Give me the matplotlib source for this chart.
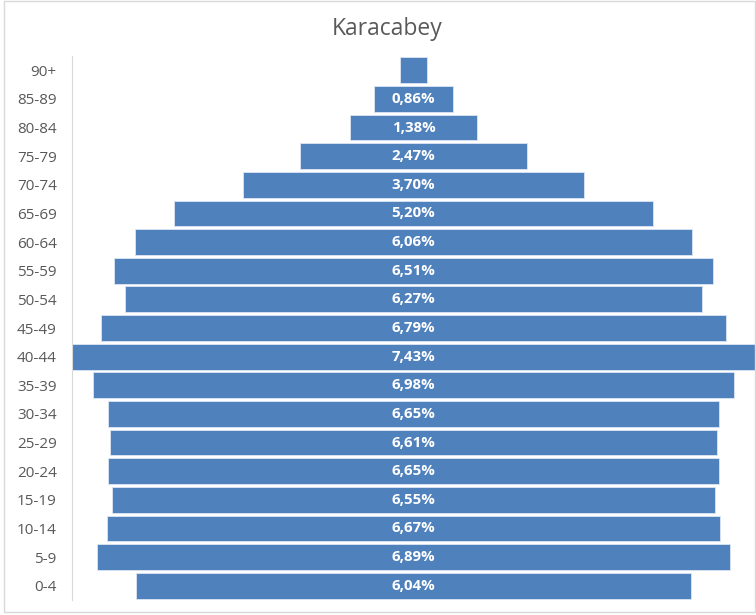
import matplotlib
matplotlib.use("Agg")
import matplotlib.pyplot as plt
from matplotlib.patches import Rectangle

# age groups, top to bottom as in the chart
ages = ["90+", "85-89", "80-84", "75-79", "70-74", "65-69", "60-64", "55-59",
        "50-54", "45-49", "40-44", "35-39", "30-34", "25-29", "20-24",
        "15-19", "10-14", "5-9", "0-4"]
share = [0.29, 0.86, 1.38, 2.47, 3.70, 5.20, 6.06, 6.51, 6.27, 6.79, 7.43,
         6.98, 6.65, 6.61, 6.65, 6.55, 6.67, 6.89, 6.04]
labels = ["", "0,86%", "1,38%", "2,47%", "3,70%", "5,20%", "6,06%", "6,51%",
          "6,27%", "6,79%", "7,43%", "6,98%", "6,65%", "6,61%", "6,65%",
          "6,55%", "6,67%", "6,89%", "6,04%"]

BLUE = "#4F81BD"
GREY = "#595959"
plt.rcParams["font.family"] = ["Open Sans", "DejaVu Sans"]

fig = plt.figure(figsize=(7.56, 6.15), dpi=100)
fig.patches.append(Rectangle((4 / 756, 3 / 615), 1 - 5 / 756, 1 - 4 / 615,
                             transform=fig.transFigure, fill=False,
                             edgecolor="#D9D9D9", lw=1))
ax = fig.add_axes([72 / 756, 15 / 615, 683 / 756, 544 / 615])

n = len(ages)
ypos = [n - 1 - i for i in range(n)]
lefts = [-v / 2 for v in share]
ax.barh(ypos, share, left=lefts, height=0.9, color=BLUE,
        edgecolor="#DCE6F2", linewidth=0.6)
for y, lab in zip(ypos, labels):
    ax.text(0, y, lab, ha="center", va="center", color="white",
            fontsize=10.8, fontweight="bold")

m = max(share) / 2
ax.set_xlim(-m, m)
ax.set_ylim(-0.5, n - 0.5)
ax.set_yticks(ypos)
ax.set_yticklabels(ages, color=GREY, fontsize=11)
ax.tick_params(axis="y", length=0, pad=11)
ax.set_xticks([])
for s in ("top", "right", "bottom"):
    ax.spines[s].set_visible(False)
ax.spines["left"].set_color("#D9D9D9")

fig.text(387 / 756, 1 - 29 / 615, "Karacabey", ha="center", va="center",
         color=GREY, fontsize=16.5)

fig.savefig("out.png", dpi=100)
